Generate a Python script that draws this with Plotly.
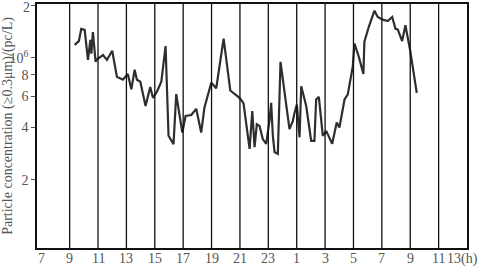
import math
import plotly.graph_objects as go

# hours (continuous; next day = +24)
hours = [9.35, 9.65, 9.82, 10.06, 10.29, 10.46, 10.53, 10.64, 10.83, 10.88, 11.35, 11.63, 12.0,
         12.33, 12.75, 13.1, 13.35, 13.58, 13.74, 13.98, 14.35, 14.68, 14.87, 15.15, 15.46, 15.76,
         15.97, 16.32, 16.51, 16.94, 17.17, 17.57, 17.92, 18.27, 18.5, 18.98, 19.33, 19.85, 20.32,
         20.97, 21.25, 21.56, 21.68, 21.87, 22.03, 22.19, 22.38, 22.61, 22.85, 23.08, 23.2, 23.32,
         23.44, 23.67, 23.86, 24.49, 24.73, 24.85, 25.01, 25.2, 25.32, 25.67, 26.02, 26.25, 26.37,
         26.56, 26.84, 27.08, 27.5, 27.82, 28.01, 28.37, 28.6, 28.95, 29.07, 29.37, 29.7, 29.77,
         30.08, 30.48, 30.71, 31.06, 31.42, 31.73, 31.96, 32.12, 32.43, 32.66, 32.83, 32.99, 33.46]
conc = [1.19e6, 1.25e6, 1.47e6, 1.45e6, 0.975e6, 1.27e6, 1.06e6, 1.41e6, 0.95e6, 0.975e6, 1.04e6,
        0.975e6, 1.1e6, 0.78e6, 0.75e6, 0.81e6, 0.66e6, 0.855e6, 0.75e6, 0.73e6, 0.53e6, 0.68e6,
        0.59e6, 0.64e6, 0.73e6, 1.17e6, 0.357e6, 0.32e6, 0.62e6, 0.373e6, 0.464e6, 0.47e6, 0.51e6,
        0.373e6, 0.52e6, 0.72e6, 0.67e6, 1.29e6, 0.65e6, 0.59e6, 0.55e6, 0.365e6, 0.30e6, 0.495e6,
        0.307e6, 0.416e6, 0.407e6, 0.342e6, 0.321e6, 0.435e6, 0.553e6, 0.357e6, 0.288e6, 0.281e6,
        0.95e6, 0.39e6, 0.435e6, 0.485e6, 0.54e6, 0.35e6, 0.687e6, 0.529e6, 0.334e6, 0.334e6,
        0.577e6, 0.598e6, 0.357e6, 0.381e6, 0.321e6, 0.426e6, 0.398e6, 0.577e6, 0.617e6, 0.893e6,
        1.21e6, 1.02e6, 0.81e6, 1.24e6, 1.51e6, 1.87e6, 1.72e6, 1.66e6, 1.63e6, 1.72e6, 1.47e6,
        1.46e6, 1.25e6, 1.54e6, 1.32e6, 1.11e6, 0.63e6]

xtick_vals = [7, 9, 11, 13, 15, 17, 19, 21, 23, 25, 27, 29, 31, 33, 35, 37]
xtick_text = ["7", "9", "11", "13", "15", "17", "19", "21", "23", "1", "3", "5", "7", "9", "11", "13(h)"]
ytick_vals = [2e5, 4e5, 6e5, 8e5, 1e6, 2e6]
ytick_text = ["2", "4", "6", "8", "10<sup>6</sup>", "2"]
grid_hours = [9, 11, 13, 15, 17, 19, 21, 23, 25, 27, 29, 31, 33, 35]

fig = go.Figure()
fig.add_trace(go.Scatter(x=hours, y=conc, mode="lines",
                         line=dict(color="#2e2e2e", width=2.2), showlegend=False,
                         hoverinfo="skip"))

for h in grid_hours:
    fig.add_shape(type="line", xref="x", yref="paper", x0=h, x1=h, y0=0, y1=1,
                  line=dict(color="#111111", width=1.3))

font = dict(family="Liberation Serif", size=14, color="#555555")

# x tick labels as annotations (anchored to the x axis values)
for v, t in zip(xtick_vals, xtick_text):
    last = t.endswith("(h)")
    fig.add_annotation(x=v, y=0, xref="x", yref="paper", text=t, showarrow=False,
                       xanchor="right" if last else "center", yanchor="top",
                       xshift=13 if last else 0, yshift=-1, font=font)

# topmost y label (plotly hides it at the figure edge) drawn at its axis value
axis_ticktext = list(ytick_text)
axis_ticktext[-1] = ""
fig.add_annotation(x=0, y=math.log10(ytick_vals[-1]), xref="paper", yref="y",
                   text=ytick_text[-1], showarrow=False, xanchor="right", yanchor="middle",
                   xshift=-5, yshift=-2, font=font)

fig.update_layout(
    width=482, height=267,
    margin=dict(l=37, r=15, t=4, b=19, autoexpand=False),
    paper_bgcolor="white", plot_bgcolor="white",
    font=font,
    xaxis=dict(range=[6.7, 37], tickvals=xtick_vals, showticklabels=False, automargin=False,
               showgrid=False, zeroline=False, showline=True, mirror=True,
               linecolor="#111111", linewidth=1.5, ticks=""),
    yaxis=dict(type="log", range=[4.908, 6.31], tickvals=ytick_vals, ticktext=axis_ticktext,
               automargin=False,
               showgrid=False, zeroline=False, showline=True, mirror=True,
               linecolor="#111111", linewidth=1.5, ticks="outside", ticklen=4,
               tickcolor="#555555", tickfont=font,
               title=dict(text="Particle concentration (≥0.3μm)/(pc/L)", font=font, standoff=0)),
)
fig.write_html("out.html", config={"displayModeBar": False},
               post_script="document.body.style.margin='0';document.body.style.padding='0';"
                           "document.body.style.overflow='hidden';")
